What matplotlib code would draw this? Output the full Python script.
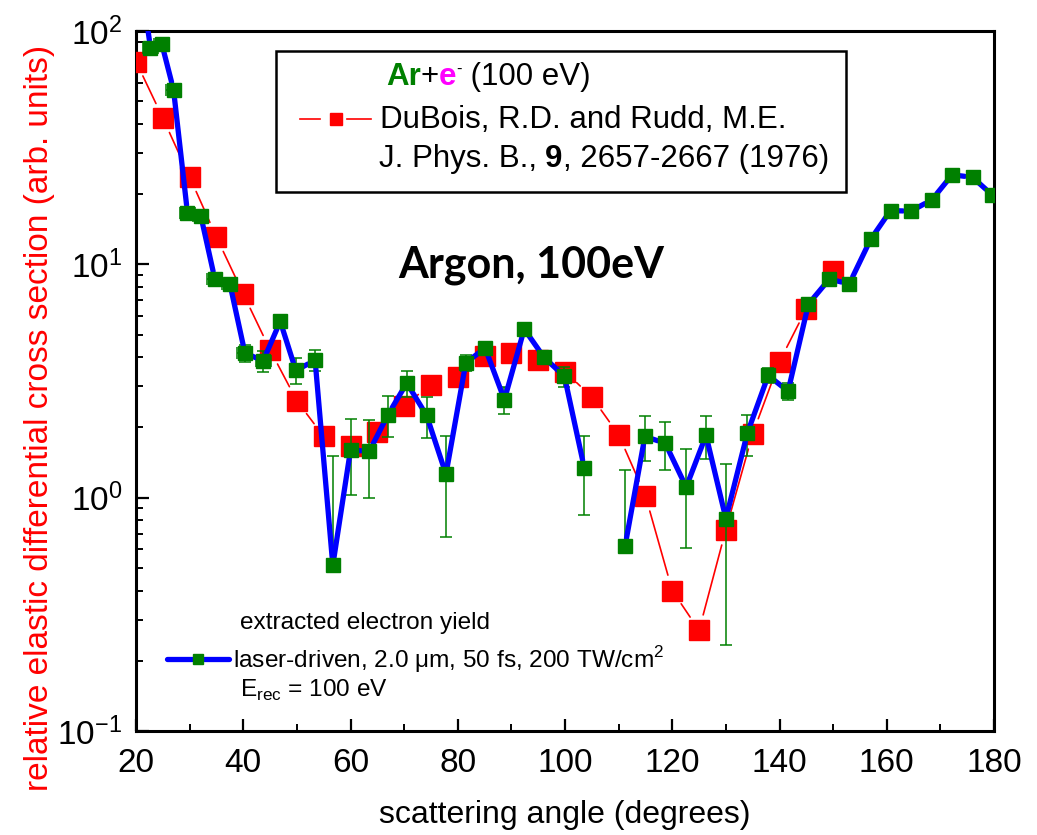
import numpy as np
import matplotlib
matplotlib.use('Agg')
import matplotlib.pyplot as plt
from matplotlib.ticker import MultipleLocator, LogLocator
from matplotlib.lines import Line2D
from matplotlib.patches import Rectangle

plt.rcParams['font.family'] = ['Liberation Sans', 'DejaVu Sans']

# DuBois & Rudd reference data (every 5 degrees)
angle_dubois = [20, 25, 30, 35, 40, 45, 50, 55, 60, 65, 70, 75, 80, 85,
                90, 95, 100, 105, 110, 115, 120, 125, 130, 135, 140, 145, 150]
dcs_dubois = [74, 42.4, 23.7, 13.1, 7.47, 4.3, 2.6, 1.83, 1.66, 1.92, 2.48, 3.05,
              3.28, 4.05, 4.17, 3.9, 3.47, 2.7, 1.86, 1.02, 0.40, 0.27, 0.73,
              1.88, 3.83, 6.45, 9.4]

# laser-driven extracted yield (nan = break in the line)
angle_laser = [21.0, 22.7, 24.8, 27.0, 29.6, 32.1, 34.7, 37.5, 40.3, 43.7, 46.9,
               49.8, 53.4, 56.7, 60.0, 63.5, 67.0, 70.5, 74.2, 77.8, 81.5, 85.1,
               88.7, 92.4, 96.1, 99.9, 103.6, 107.4, 111.2, 114.9, 118.7, 122.6,
               126.3, 130.0, 134.0, 137.9, 141.6, 145.4, 149.3, 153.0, 157.0,
               160.7, 164.5, 168.4, 172.2, 176.0, 179.6]
dcs_laser = [160, 84.6, 88.3, 56, 16.6, 16.1, 8.65, 8.27, 4.18, 3.85, 5.7,
             3.51, 3.88, 0.513, 1.6, 1.58, 2.27, 3.1, 2.25, 1.26, 3.78, 4.38,
             2.63, 5.28, 3.99, 3.31, 1.34, np.nan, 0.62, 1.83, 1.71, 1.11,
             1.85, 0.813, 1.89, 3.34, 2.86, 6.76, 8.65, 8.24, 12.8,
             17.0, 16.9, 18.9, 24.2, 23.6, 19.9]
err_laser = [0, 3, 3, 2, 0.6, 0.6, 0.3, 0.3, 0.35, 0.4, 0.3,
             0.45, 0.4, 1.0, 0.57, 0.58, 0.45, 0.4, 0.45, 0.58, 0.3, 0.2,
             0.35, 0.2, 0.2, 0.32, 0.5, np.nan, 0.7, 0.4, 0.4, 0.5,
             0.38, 0.58, 0.38, 0.25, 0.25, 0.2, 0.2, 0.2, 0.2,
             0.2, 0.2, 0.2, 0.2, 0.2, 0.2]
xerr_laser = [0, 1.4, 1.4, 1.4, 1.4, 1.4, 1.4, 1.4, 1.4, 1.4] + [0] * 37

W, H = 1037, 835


def fx(px):
    return px / W


def fy(py):
    return 1 - py / H


def gapped(ax, xs, ys, gap, **kw):
    # origin style: line stops short of each marker
    pts = ax.transData.transform(np.column_stack([xs, ys]))
    inv = ax.transData.inverted()
    for p0, p1 in zip(pts[:-1], pts[1:]):
        if np.isnan(p0).any() or np.isnan(p1).any():
            continue
        d = np.hypot(*(p1 - p0))
        if d <= 2 * gap:
            continue
        u = (p1 - p0) / d
        seg = inv.transform([p0 + u * gap, p1 - u * gap])
        ax.plot(seg[:, 0], seg[:, 1], solid_capstyle='round', **kw)


fig = plt.figure(figsize=(W / 100, H / 100), dpi=100)
ax = fig.add_axes([fx(136), fy(731), (994 - 136) / W, (731 - 31) / H])
ax.set_xlim(20, 180)
ax.set_yscale('log')
ax.set_ylim(0.1, 100)

gapped(ax, angle_dubois, dcs_dubois, 16, color='red', lw=1.2, zorder=2)
ax.plot(angle_dubois, dcs_dubois, 's', color='red', ms=14, mec='red', zorder=3)

y = np.array(dcs_laser)
e = np.array(err_laser)
lo = np.where(y - e > 0, e, 0)
ax.errorbar(angle_laser, y, yerr=[lo, e], xerr=xerr_laser, fmt='none',
            ecolor='green', elinewidth=1.1, capsize=4.3, capthick=1.1, zorder=4)
gapped(ax, angle_laser, dcs_laser, 8, color='blue', lw=3.8, zorder=5)
ax.plot(angle_laser, dcs_laser, 's', color='green', ms=9.6, mec='green', zorder=6)

ax.xaxis.set_major_locator(MultipleLocator(20))
ax.xaxis.set_minor_locator(MultipleLocator(10))
ax.yaxis.set_major_locator(LogLocator(base=10))
ax.yaxis.set_minor_locator(LogLocator(base=10, subs=np.arange(2, 10)))
ax.tick_params(which='both', direction='in', top=False, right=False)
ax.tick_params(which='major', length=9, width=1.6, labelsize=24)
ax.tick_params(axis='x', which='major', pad=12)
ax.tick_params(axis='y', which='major', pad=10)
ax.tick_params(which='minor', length=5, width=1.4)
for s in ax.spines.values():
    s.set_linewidth(2.2)

fig.text(fx(565), fy(815), 'scattering angle (degrees)', ha='center', va='center', fontsize=23)
fig.text(fx(40), fy(418), 'relative elastic differential cross section (arb. units)',
         rotation=90, color='red', ha='center', va='center', fontsize=24)

fig.text(fx(531), fy(265), 'Argon, 100eV', ha='center', va='center', fontsize=31,
         fontweight='bold', family=['Lato', 'DejaVu Sans'])

# top legend box
fig.add_artist(Rectangle((fx(276), fy(192)), (846 - 276) / W, (192 - 51) / H,
                         transform=fig.transFigure, fill=False, lw=1.8, ec='black'))
fs = 22.5
t1 = fig.text(fx(386), fy(92), 'Ar', color='green', fontweight='bold', fontsize=fs, va='bottom')
t2 = ax.annotate('+', xy=(1, 0), xycoords=t1, fontsize=fs, va='bottom')
t3 = ax.annotate('e', xy=(1, 0), xycoords=t2, fontsize=fs, va='bottom',
                 color='magenta', fontweight='bold')
t4 = ax.annotate('-', xy=(1, 1), xycoords=t3, fontsize=12, va='top')
ax.annotate(' (100 eV)', xy=(1, 0), xycoords=(t4, t3), fontsize=fs, va='bottom')

fig.add_artist(Line2D([fx(299.5), fx(320)], [fy(119), fy(119)], color='red', lw=1.2))
fig.add_artist(Line2D([fx(347), fx(371)], [fy(119), fy(119)], color='red', lw=1.2))
fig.add_artist(Line2D([fx(335.5)], [fy(119)], marker='s', color='red', ms=8.5))
fig.text(fx(380.5), fy(135), 'DuBois, R.D. and Rudd, M.E.', fontsize=fs, va='bottom')
j1 = fig.text(fx(378.6), fy(174), 'J. Phys. B., ', fontsize=fs, va='bottom')
j2 = ax.annotate('9', xy=(1, 0), xycoords=j1, fontsize=fs, va='bottom', fontweight='bold')
ax.annotate(', 2657-2667 (1976)', xy=(1, 0), xycoords=j2, fontsize=fs, va='bottom')

# bottom legend
fs2 = 17.6
fig.text(fx(240), fy(623), 'extracted electron yield', fontsize=fs2, va='center')
fig.add_artist(Line2D([fx(167), fx(191.7)], [fy(659), fy(659)], color='blue', lw=3.8,
                      solid_capstyle='round'))
fig.add_artist(Line2D([fx(204), fx(229)], [fy(659), fy(659)], color='blue', lw=3.8,
                      solid_capstyle='round'))
fig.add_artist(Line2D([fx(197.7)], [fy(659)], marker='s', color='green', ms=7.2))
fig.text(fx(233), fy(660), 'laser-driven, 2.0 \u03bcm, 50 fs, 200 TW/cm$^{\\mathregular{2}}$',
         fontsize=fs2, va='center')
fig.text(fx(240), fy(690), 'E$_{\\mathregular{rec}}$ = 100 eV', fontsize=fs2, va='center')

fig.savefig('out.png', dpi=100)
